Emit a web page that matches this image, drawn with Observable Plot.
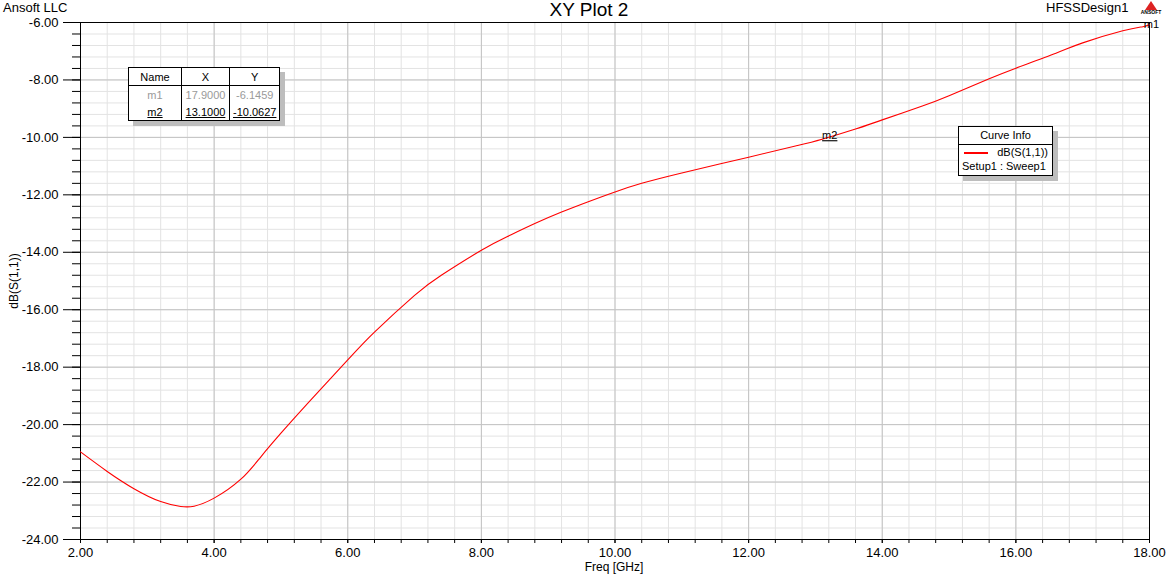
<!DOCTYPE html>
<html>
<head>
<meta charset="utf-8">
<script src="https://cdn.jsdelivr.net/npm/d3@7"></script>
<script src="https://cdn.jsdelivr.net/npm/@observablehq/plot@0.6"></script>
<style>
  html, body { margin: 0; padding: 0; background: #fff; }
  #wrap { position: relative; width: 1166px; height: 574px; font-family: "Liberation Sans", Arial, sans-serif; color: #000; overflow: hidden; }
  .abs { position: absolute; white-space: nowrap; }
  table.mk { position: absolute; left: 128px; top: 67px; border-collapse: collapse; background: #fff; font-size: 11px; box-shadow: 5px 5px 0 #bdbdbd; }
  table.mk td { border-left: 1px solid #000; border-right: 1px solid #000; height: 17px; padding: 0 3px; text-align: center; }
  table.mk tr.h td { border-top: 1px solid #000; border-bottom: 1px solid #000; }
  table.mk tr.last td { border-bottom: 1px solid #000; }
  table.mk tr.g td { color: #9a9a9a; }
  table.mk tr.u td span { text-decoration: underline; }
  #ci { position: absolute; left: 958px; top: 126px; width: 93px; height: 48px; border: 1px solid #000; background: #fff; box-shadow: 5px 5px 0 #bdbdbd; font-size: 11px; }
</style>
</head>
<body>
<div id="wrap"></div>
<script>
// ---- data ----
const freq = [2.0, 2.4, 2.8, 3.2, 3.5, 3.7, 4.0, 4.4, 4.7, 5.0, 5.4, 6.0, 6.4, 7.0, 7.4, 8.0, 8.4, 8.8, 9.2, 9.6, 10.0, 10.4, 11.0, 12.0, 12.7, 13.1, 13.6, 14.0, 14.6, 15.0, 15.6, 16.0, 16.6, 17.0, 17.6, 17.9, 18.0];
const s11 = [-20.95, -21.63, -22.23, -22.68, -22.85, -22.84, -22.56, -21.9, -21.12, -20.3, -19.26, -17.75, -16.78, -15.5, -14.8, -13.93, -13.44, -13.0, -12.6, -12.24, -11.9, -11.6, -11.24, -10.69, -10.3, -10.0627, -9.71, -9.39, -8.91, -8.55, -7.96, -7.59, -7.07, -6.71, -6.29, -6.1459, -6.08];
const xTicks = [2, 4, 6, 8, 10, 12, 14, 16, 18];
const yTicks = [-24, -22, -20, -18, -16, -14, -12, -10, -8, -6];
const markerNames = ["m1", "m2"];
const markerX = [17.9, 13.1];
const markerY = [-6.1459, -10.0627];
const seriesName = "dB(S(1,1))";
const sweepName = "Setup1 : Sweep1";

const curve = freq.map((f, i) => ({f, v: s11[i]}));
const markers = markerNames.map((n, i) => ({n, f: markerX[i], v: markerY[i]}));
const xMinor = d3.range(2, 18.001, 0.4).map(d => +d.toFixed(2));
const yMinor = d3.range(-24, -5.999, 0.4).map(d => +d.toFixed(2));

const plot = Plot.plot({
  width: 1166, height: 574,
  marginLeft: 80, marginRight: 17, marginTop: 22, marginBottom: 35,
  style: {fontFamily: "'Liberation Sans', Arial, sans-serif", fontSize: "13px", background: "transparent", overflow: "visible"},
  x: {domain: [2, 18]},
  y: {domain: [-24, -6]},
  marks: [
    Plot.ruleX(xMinor, {stroke: "#e3e3e3"}),
    Plot.ruleY(yMinor, {stroke: "#e3e3e3"}),
    Plot.ruleX(xTicks, {stroke: "#c3c3c3"}),
    Plot.ruleY(yTicks, {stroke: "#c3c3c3"}),
    Plot.frame({stroke: "#000"}),
    Plot.axisX(xMinor, {tickSize: 4, tickFormat: () => "", label: null, stroke: "#000"}),
    Plot.axisX(xTicks, {tickSize: 4, tickPadding: 4, tickFormat: d => d.toFixed(2), label: null, stroke: "#000", fill: "#000"}),
    Plot.axisY(yMinor, {tickSize: 8, tickFormat: () => "", label: null, stroke: "#000"}),
    Plot.axisY(yTicks, {tickSize: 17, tickPadding: 5, tickFormat: d => d.toFixed(2), label: null, stroke: "#000", fill: "#000"}),
    Plot.line(curve, {x: "f", y: "v", stroke: "#ff0000", strokeWidth: 1.1, curve: "natural"}),
    Plot.text(markers.filter(d => d.n === "m2"), {x: "f", y: "v", text: "n", textAnchor: "start", lineAnchor: "bottom", dx: 0, dy: 0, fill: "#000", fontSize: 11}),
    Plot.text(markers.filter(d => d.n === "m1"), {x: "f", y: "v", text: "n", textAnchor: "start", lineAnchor: "bottom", dx: 1, dy: 1, fill: "#000", fontSize: 11})
  ]
});
const wrap = document.getElementById("wrap");
wrap.appendChild(plot);
d3.select(plot).selectAll("text").filter(function() { return this.textContent === "m2"; }).style("text-decoration", "underline");

function add(html) { wrap.insertAdjacentHTML("beforeend", html); }
add(`<div class="abs" style="left:3px;top:1px;font-size:13px;line-height:13px;">Ansoft LLC</div>`);
add(`<div class="abs" style="left:589px;top:0px;font-size:19px;line-height:19px;transform:translateX(-50%);">XY Plot 2</div>`);
add(`<div class="abs" style="left:1046px;top:1px;font-size:13px;line-height:13px;">HFSSDesign1</div>`);
add(`<div class="abs" style="left:1140px;top:1px;width:22px;text-align:center;font-size:5px;font-weight:bold;line-height:5px;">
  <div style="width:0;height:0;margin:0 auto;border-left:6px solid transparent;border-right:6px solid transparent;border-bottom:9px solid #d22;"></div>ANSOFT</div>`);
add(`<div class="abs" style="left:614px;top:561px;font-size:12px;line-height:12px;transform:translateX(-50%);">Freq [GHz]</div>`);
add(`<div class="abs" style="left:14px;top:281px;font-size:12px;line-height:12px;transform:translate(-50%,-50%) rotate(-90deg);">dB(S(1,1))</div>`);

const rows = markers.map((m, i) => `<tr class="${i === 0 ? "g" : "u last"}"><td><span>${m.n}</span></td><td><span>${m.f.toFixed(4)}</span></td><td><span>${m.v.toFixed(4)}</span></td></tr>`).join("");
add(`<table class="mk"><tr class="h"><td style="width:46px">Name</td><td style="width:41px">X</td><td style="width:43px">Y</td></tr>${rows}</table>`);

add(`<div id="ci">
  <div style="height:17px;line-height:17px;text-align:center;border-bottom:1px solid #000;">Curve Info</div>
  <div style="position:absolute;left:5px;top:25px;width:24px;height:2px;background:#f00;"></div>
  <div style="position:absolute;right:4px;top:19px;">${seriesName}</div>
  <div style="position:absolute;left:3px;top:33px;">${sweepName}</div>
</div>`);
</script>
</body>
</html>
